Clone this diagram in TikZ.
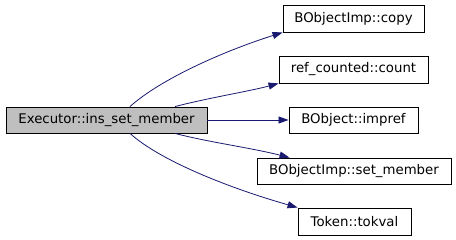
\documentclass[tikz,border=0pt]{standalone}
\usepackage{fontspec}
\setmainfont{DejaVu Sans}
\usetikzlibrary{arrows.meta}
\definecolor{edgeblue}{HTML}{191970}
\definecolor{mainfill}{HTML}{BFBFBF}
\tikzset{
  fn/.style={draw=black, line width=0.9pt, rectangle, inner sep=0pt, font=\fontsize{13.3}{16}\selectfont, text=black},
  call/.style={draw=edgeblue, line width=0.8pt, -{Triangle[length=10pt,width=7pt]}, edgeblue}
}
\begin{document}
\begin{tikzpicture}[x=1pt,y=-1pt]
\useasboundingbox (0,0) rectangle (456,240);
\node[fn, fill=mainfill, minimum width=201pt, minimum height=26pt] (main) at (106.5,120) {Executor::ins\_set\_member};
\node[fn, minimum width=141pt, minimum height=27pt] (copy) at (353.5,18.5) {BObjectImp::copy};
\node[fn, minimum width=149pt, minimum height=27pt] (count) at (353.5,69.5) {ref\_counted::count};
\node[fn, minimum width=129pt, minimum height=26pt] (impref) at (353.5,120) {BObject::impref};
\node[fn, minimum width=194pt, minimum height=26pt] (setm) at (354,171) {BObjectImp::set\_member};
\node[fn, minimum width=113pt, minimum height=27pt] (tok) at (354.5,221.5) {Token::tokval};
\draw[call] ([xshift=23.5pt]main.north) .. controls +(30,-27) and +(-60,19) .. (copy.south west);
\draw[call] ([xshift=68.5pt]main.north) .. controls +(35,-9) and +(-30,8) .. (count.south west);
\draw[call] (main.east) -- (impref.west);
\draw[call] ([xshift=68.5pt]main.south) .. controls +(35,9) and +(-40,-10) .. ([xshift=33pt]setm.north west);
\draw[call] ([xshift=23.5pt]main.south) .. controls +(30,27) and +(-70,-20) .. (tok.north west);
\end{tikzpicture}
\end{document}
